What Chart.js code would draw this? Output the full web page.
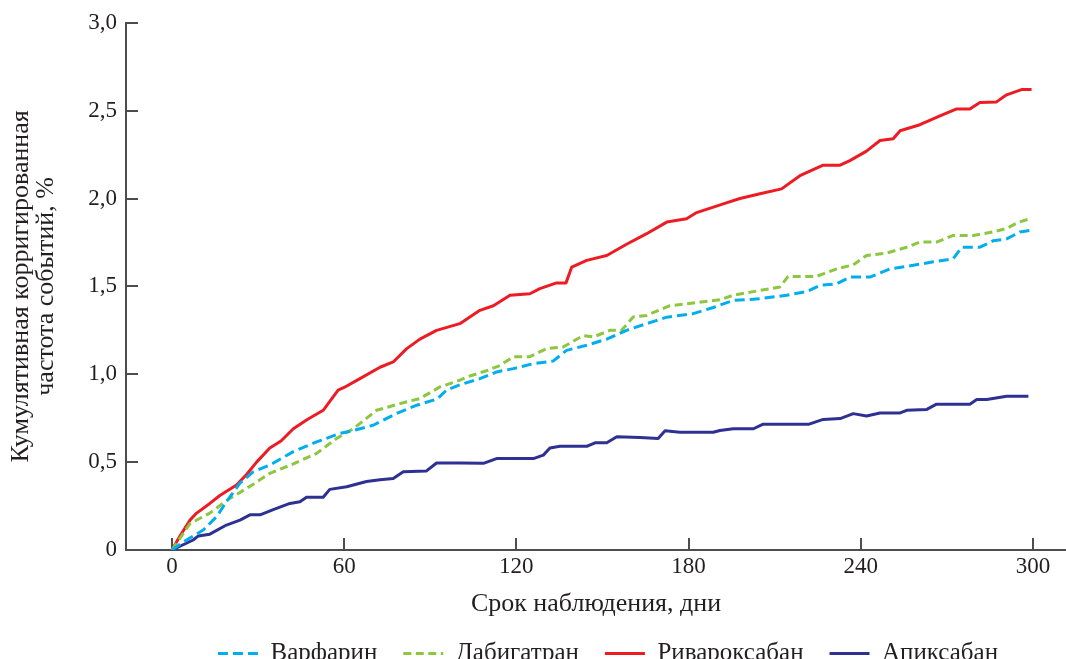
<!DOCTYPE html>
<html lang="ru">
<head>
<meta charset="utf-8">
<script src="https://cdn.jsdelivr.net/npm/chart.js@4"></script>
<style>
  html, body { margin: 0; padding: 0; background: #fff; overflow: hidden; }
  #wrap { width: 1066px; height: 659px; overflow: hidden; }
  canvas { display: block; }
</style>
</head>
<body>
<div id="wrap"><canvas id="chart" width="1066" height="676"></canvas></div>
<script>
// Оси
const xTicks = [0, 60, 120, 180, 240, 300];
const yTicks = [0, 0.5, 1, 1.5, 2, 2.5, 3];
const yTickLabels = ['0', '0,5', '1,0', '1,5', '2,0', '2,5', '3,0'];

// Варфарин
const warfarinDays = [0, 5.1, 10.9, 15.6, 19, 23.7, 28.3, 34.1, 42.3, 50.4, 58.5, 63.2, 70.1, 78.3, 85.3, 92.5, 95.7, 100.3, 107.3, 113.1, 118.9, 125.9, 132.9, 137.5, 144.5, 151.5, 158.4, 165.4, 172.4, 181.6, 188.6, 195.6, 204.9, 214.2, 221.1, 225.8, 231.6, 236.2, 243.2, 250.2, 258.3, 265.3, 272.2, 275.2, 281.5, 286.2, 290.8, 295.5, 299.5];
const warfarin = [0, 0.057, 0.114, 0.19, 0.275, 0.38, 0.445, 0.483, 0.56, 0.615, 0.663, 0.68, 0.71, 0.777, 0.824, 0.86, 0.91, 0.94, 0.975, 1.013, 1.032, 1.06, 1.076, 1.136, 1.165, 1.2, 1.25, 1.288, 1.325, 1.345, 1.38, 1.42, 1.43, 1.45, 1.47, 1.506, 1.515, 1.553, 1.553, 1.6, 1.62, 1.64, 1.657, 1.723, 1.723, 1.76, 1.77, 1.81, 1.82];

// Дабигатран
const dabigatranDays = [0, 6.3, 13.2, 20.2, 26, 34.1, 42.3, 50.4, 57.4, 63.2, 71.3, 79.4, 86.4, 93.4, 100.3, 103.8, 109.6, 114.3, 118.9, 124.7, 130.6, 136.3, 143.3, 146.8, 152.6, 156.7, 160.7, 165.4, 173.5, 181.6, 190.9, 195.6, 204.9, 211.8, 214.7, 224.6, 231.6, 237.4, 242, 249, 256, 260.6, 266.4, 272.2, 279.2, 286.2, 290.8, 294.9, 298.9];
const dabigatran = [0, 0.15, 0.21, 0.294, 0.35, 0.436, 0.49, 0.55, 0.635, 0.69, 0.795, 0.833, 0.862, 0.928, 0.966, 0.99, 1.02, 1.05, 1.1, 1.1, 1.146, 1.155, 1.22, 1.212, 1.25, 1.25, 1.326, 1.335, 1.39, 1.405, 1.424, 1.45, 1.477, 1.496, 1.557, 1.557, 1.6, 1.623, 1.676, 1.69, 1.723, 1.752, 1.752, 1.79, 1.79, 1.81, 1.83, 1.865, 1.885];

// Ривароксабан
const rivaroxabanDays = [0, 2.8, 6.3, 8.6, 13.2, 16.7, 22.5, 26, 29.5, 34.1, 38, 42.3, 46.9, 52.7, 57.9, 60, 65.5, 72.5, 77.1, 81.8, 86.4, 92.2, 100.3, 107.3, 112, 117.8, 124.7, 128.2, 134, 137.3, 139.3, 144.5, 151.5, 158.4, 165.4, 172.4, 179.3, 182.8, 192.1, 197.9, 204.9, 212.4, 218.8, 226.9, 232.8, 236.2, 242, 246.7, 251.3, 253.7, 260.6, 267.6, 273.4, 278, 281.5, 287.3, 290.8, 296, 299.5];
const rivaroxaban = [0, 0.08, 0.17, 0.21, 0.265, 0.31, 0.37, 0.43, 0.5, 0.58, 0.62, 0.69, 0.74, 0.795, 0.91, 0.925, 0.975, 1.04, 1.07, 1.146, 1.2, 1.25, 1.288, 1.364, 1.39, 1.45, 1.458, 1.487, 1.52, 1.52, 1.61, 1.648, 1.676, 1.74, 1.8, 1.866, 1.885, 1.92, 1.97, 2.0, 2.027, 2.055, 2.13, 2.19, 2.19, 2.216, 2.27, 2.33, 2.34, 2.386, 2.42, 2.47, 2.51, 2.51, 2.547, 2.55, 2.59, 2.62, 2.62];

// Апиксабан
const apixabanDays = [0, 7.4, 9.2, 13.2, 19, 23.7, 27.2, 30.7, 35.3, 41.1, 44.6, 46.9, 52.7, 55, 60.9, 67.8, 72.5, 77.1, 80.6, 88.7, 92.2, 100.3, 108.5, 113.1, 125.9, 129.4, 131.7, 135.2, 144.5, 147.4, 151.5, 155, 163.1, 169.4, 171.8, 177, 188.6, 190.9, 195.6, 202.6, 206, 222, 226.9, 232.8, 237.4, 242, 246.7, 253.7, 256, 263, 266.4, 278, 280.4, 283.9, 290.8, 298.4];
const apixaban = [0, 0.057, 0.08, 0.09, 0.142, 0.17, 0.2, 0.2, 0.23, 0.265, 0.275, 0.3, 0.3, 0.345, 0.36, 0.39, 0.4, 0.407, 0.445, 0.45, 0.495, 0.495, 0.493, 0.52, 0.52, 0.54, 0.58, 0.59, 0.59, 0.61, 0.61, 0.644, 0.64, 0.635, 0.678, 0.67, 0.67, 0.68, 0.69, 0.69, 0.716, 0.716, 0.743, 0.748, 0.776, 0.763, 0.78, 0.78, 0.795, 0.8, 0.83, 0.83, 0.856, 0.856, 0.875, 0.875];

const toPoints = (days, vals) => days.map((d, i) => ({ x: d, y: vals[i] }));

Chart.defaults.font.family = "'Liberation Serif', 'Times New Roman', serif";
Chart.defaults.color = '#231f20';

const axisColor = '#4d4d4f';

// засечки внутрь области графика
const innerTicks = {
  id: 'innerTicks',
  beforeDatasetsDraw(chart) {
    const { ctx, scales: { x, y } } = chart;
    ctx.save();
    ctx.strokeStyle = axisColor;
    ctx.lineWidth = 2;
    ctx.beginPath();
    x.ticks.forEach(t => {
      const px = Math.round(x.getPixelForValue(t.value));
      ctx.moveTo(px, x.top);
      ctx.lineTo(px, x.top - 12);
    });
    y.ticks.forEach(t => {
      const py = Math.round(y.getPixelForValue(t.value));
      ctx.moveTo(y.right, py);
      ctx.lineTo(y.right + 12, py);
    });
    ctx.stroke();
    ctx.restore();
  }
};

// легенда чуть правее центра области графика
const legendShift = {
  id: 'legendShift',
  afterLayout(chart) {
    if (chart.legend) {
      chart.legend.left += 12;
      chart.legend.right += 12;
    }
  }
};

new Chart(document.getElementById('chart'), {
  type: 'line',
  data: {
    datasets: [
      {
        label: 'Варфарин',
        data: toPoints(warfarinDays, warfarin),
        borderColor: '#00aeef',
        backgroundColor: '#00aeef',
        borderWidth: 3,
        borderDash: [10, 5]
      },
      {
        label: 'Дабигатран',
        data: toPoints(dabigatranDays, dabigatran),
        borderColor: '#8dc63f',
        backgroundColor: '#8dc63f',
        borderWidth: 3,
        borderDash: [8, 4.5]
      },
      {
        label: 'Ривароксабан',
        data: toPoints(rivaroxabanDays, rivaroxaban),
        borderColor: '#ed1c24',
        backgroundColor: '#ed1c24',
        borderWidth: 3
      },
      {
        label: 'Апиксабан',
        data: toPoints(apixabanDays, apixaban),
        borderColor: '#2e3192',
        backgroundColor: '#2e3192',
        borderWidth: 3
      }
    ]
  },
  options: {
    responsive: false,
    animation: false,
    devicePixelRatio: 1,
    layout: { padding: { top: 11, right: 0, left: 0, bottom: 0 } },
    elements: {
      point: { radius: 0 },
      line: { tension: 0, borderCapStyle: 'butt', borderJoinStyle: 'round' }
    },
    scales: {
      x: {
        type: 'linear',
        min: -16,
        max: 311.5,
        afterBuildTicks: s => { s.ticks = xTicks.map(v => ({ value: v })); },
        afterFit: s => { s.height = 65; },
        border: { color: axisColor, width: 2 },
        grid: { display: false, drawTicks: false },
        ticks: { padding: 3, maxRotation: 0, font: { size: 23 } },
        title: {
          display: true,
          text: 'Срок наблюдения, дни',
          font: { size: 26 },
          padding: { top: 0, bottom: -5 }
        }
      },
      y: {
        min: 0,
        max: 3,
        afterBuildTicks: s => { s.ticks = yTicks.map(v => ({ value: v })); },
        afterFit: s => { s.width = 126; },
        border: { color: axisColor, width: 2 },
        grid: { display: false, drawTicks: false },
        ticks: {
          padding: 9,
          font: { size: 23 },
          callback: (v) => yTickLabels[yTicks.indexOf(v)]
        },
        title: {
          display: true,
          text: ['Кумулятивная корригированная', 'частота событий, %'],
          font: { size: 26, lineHeight: 0.96 },
          padding: { top: 9, bottom: 0 }
        }
      }
    },
    plugins: {
      legend: {
        position: 'bottom',
        fullSize: false,
        labels: {
          usePointStyle: true,
          pointStyle: 'line',
          pointStyleWidth: 40,
          boxHeight: 25,
          padding: 26,
          font: { size: 25 },
          generateLabels: chart => Chart.defaults.plugins.legend.labels.generateLabels(chart).map(item => {
            const ds = chart.data.datasets[item.datasetIndex];
            return Object.assign(item, {
              lineDash: ds.borderDash || [],
              lineWidth: ds.borderWidth,
              strokeStyle: ds.borderColor,
              fillStyle: ds.borderColor
            });
          })
        }
      },
      tooltip: { enabled: false }
    }
  },
  plugins: [innerTicks, legendShift]
});
</script>
</body>
</html>
